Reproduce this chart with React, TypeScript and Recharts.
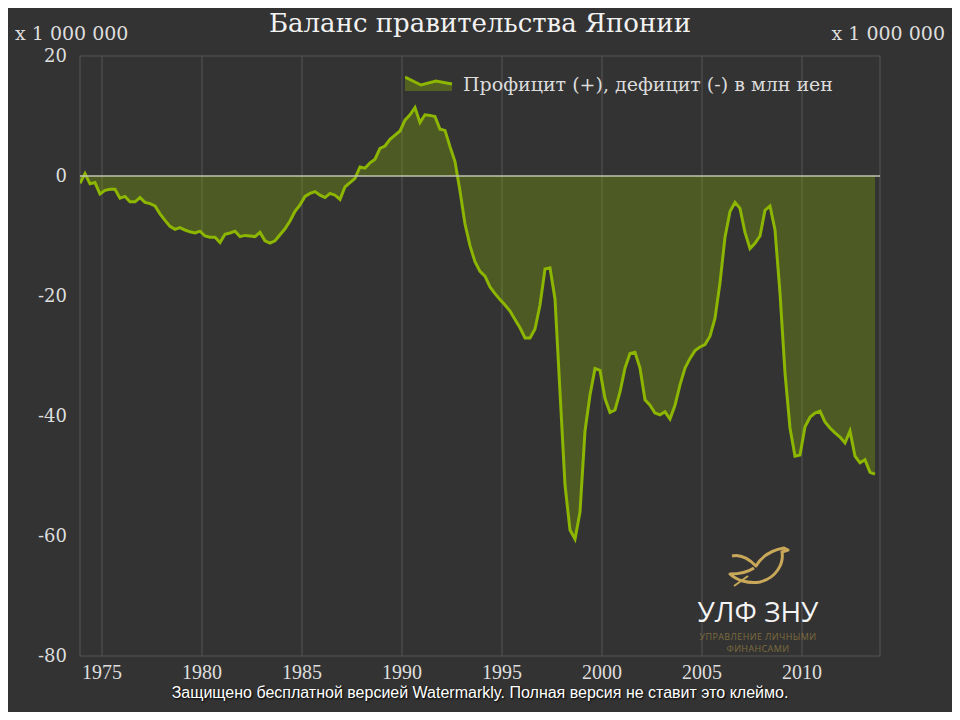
import {
  AreaChart,
  Area,
  XAxis,
  YAxis,
  CartesianGrid,
  ReferenceLine,
} from "recharts";

// quarterly balance, x 1 000 000 млн иен, first quarter sits at 1973.9
const startYear = 1973.9;
const balance = [
  -1.2, 0.4, -1.3, -1.1, -3.0, -2.4, -2.2, -2.2, -3.7, -3.4,
  -4.3, -4.3, -3.6, -4.4, -4.6, -5.0, -6.3, -7.4, -8.4, -8.9,
  -8.6, -9.0, -9.3, -9.5, -9.2, -10.0, -10.2, -10.2, -11.1, -9.7,
  -9.5, -9.2, -10.1, -9.9, -10.0, -10.1, -9.4, -10.8, -11.2, -10.8,
  -9.8, -8.8, -7.5, -5.9, -4.8, -3.4, -2.9, -2.6, -3.2, -3.6,
  -2.9, -3.2, -3.9, -1.8, -1.1, -0.4, 1.5, 1.3, 2.2, 2.8,
  4.6, 5.0, 6.1, 6.8, 7.5, 9.3, 10.2, 11.4, 8.9, 10.2,
  10.1, 9.9, 7.8, 7.6, 4.9, 2.4, -2.5, -8.0, -11.6, -14.3,
  -15.9, -16.7, -18.5, -19.6, -20.6, -21.5, -22.5, -23.9, -25.3, -27.0,
  -27.0, -25.5, -21.5, -15.5, -15.3, -20.5, -36.0, -51.5, -59.0, -60.5,
  -56.0, -42.5, -36.5, -32.1, -32.4, -37.1, -39.4, -39.0, -36.0, -32.0,
  -29.6, -29.4, -32.0, -37.3, -38.2, -39.5, -39.8, -39.3, -40.5, -38.2,
  -34.8, -32.0, -30.4, -29.1, -28.5, -28.1, -26.7, -23.7, -17.8, -10.2,
  -5.9, -4.4, -5.4, -9.4, -12.1, -11.2, -10.0, -5.7, -5.0, -9.0,
  -19.5, -32.8, -42.0, -46.7, -46.5, -41.8, -40.2, -39.5, -39.2, -41.0,
  -42.0, -42.8, -43.5, -44.5, -42.5, -46.7, -47.8, -47.3, -49.4, -49.7,
];
const xTicks = [1975, 1980, 1985, 1990, 1995, 2000, 2005, 2010];
const yTicks = [-80, -60, -40, -20, 0, 20];

const chartData = balance.map((v, i) => ({
  year: startYear + i * 0.25,
  value: v,
}));

const serif = '"Liberation Serif", "DejaVu Serif", serif';
const wideSerif = '"DejaVu Serif", "Liberation Serif", serif';
const lineColor = "#8db600";
const xTickStyle = { fontSize: 20, fill: "#dedede", fontFamily: serif };
const yTickStyle = { fontSize: 18, fill: "#dedede", fontFamily: wideSerif };

export default function App() {
  return (
    <div
      style={{
        position: "relative",
        width: 960,
        height: 720,
        margin: -8,
        background: "#333333",
        fontFamily: serif,
        overflow: "hidden",
      }}
    >
      <div
        style={{
          position: "absolute",
          top: 6,
          left: 0,
          width: 960,
          textAlign: "center",
          fontFamily: wideSerif,
          fontSize: 26,
          lineHeight: "34px",
          color: "#f2f2f2",
        }}
      >
        Баланс правительства Японии
      </div>
      <div style={{ position: "absolute", top: 22, left: 15, fontFamily: wideSerif, fontSize: 19, color: "#dedede" }}>
        x 1 000 000
      </div>
      <div style={{ position: "absolute", top: 22, right: 15, fontFamily: wideSerif, fontSize: 19, color: "#dedede" }}>
        x 1 000 000
      </div>

      <AreaChart
        width={960}
        height={720}
        data={chartData}
        margin={{ top: 56, right: 0, bottom: 0, left: 0 }}
      >
        <CartesianGrid stroke="#575757" strokeWidth={1} />
        <XAxis
          dataKey="year"
          type="number"
          domain={[1973.9, 2013.9]}
          ticks={xTicks}
          allowDataOverflow
          height={64}
          axisLine={false}
          tickLine={false}
          tickMargin={3}
          tick={xTickStyle}
        />
        <YAxis
          yAxisId="left"
          width={80}
          domain={[-80, 20]}
          ticks={yTicks}
          axisLine={false}
          tickLine={false}
          tickMargin={7}
          tick={yTickStyle}
        />
        <YAxis
          yAxisId="right"
          orientation="right"
          width={80}
          domain={[-80, 20]}
          ticks={yTicks}
          axisLine={false}
          tickLine={false}
          tickMargin={9}
          tick={yTickStyle}
        />
        <Area
          yAxisId="left"
          type="linear"
          dataKey="value"
          baseValue={0}
          stroke={lineColor}
          strokeWidth={3}
          fill={lineColor}
          fillOpacity={0.3}
          dot={false}
          activeDot={false}
          isAnimationActive={false}
        />
        <ReferenceLine yAxisId="left" y={0} stroke="#c2c5b0" strokeWidth={1.5} />
      </AreaChart>

      {/* legend */}
      <div
        style={{
          position: "absolute",
          top: 73,
          left: 405,
          display: "flex",
          alignItems: "center",
          gap: 10,
          fontFamily: wideSerif,
          fontSize: 19,
          color: "#dcdcdc",
        }}
      >
        <svg width={48} height={18}>
          <path d="M0,2 L16,10 L31,6 L47,9 L47,16 L0,16 Z" fill={lineColor} fillOpacity={0.35} />
          <polyline points="0,2 16,10 31,6 47,9" fill="none" stroke={lineColor} strokeWidth={3} />
        </svg>
        <span>Профицит (+), дефицит (-) в млн иен</span>
      </div>

      {/* logo */}
      <svg
        style={{ position: "absolute", left: 726, top: 542 }}
        width={66}
        height={48}
      >
        <path
          d="M6,14 C14,12 22,16 30,24 C36,14 46,8 58,6 L62,8 L56,10 C58,22 50,36 34,40 C22,42 10,38 4,32 C14,32 22,30 28,26"
          fill="none"
          stroke="#c9a85a"
          strokeWidth={3}
          strokeLinejoin="round"
        />
        <path d="M8,44 L22,34" stroke="#c9a85a" strokeWidth={2} />
      </svg>
      <div
        style={{
          position: "absolute",
          top: 594,
          left: 690,
          width: 136,
          textAlign: "center",
          fontFamily: '"Open Sans", sans-serif',
          fontSize: 28,
          lineHeight: "34px",
          color: "#f4f4f4",
        }}
      >
        УЛФ ЗНУ
      </div>
      <div
        style={{
          position: "absolute",
          top: 631,
          left: 680,
          width: 156,
          textAlign: "center",
          fontFamily: '"Open Sans", sans-serif',
          fontSize: 9,
          lineHeight: "12px",
          letterSpacing: 0.4,
          color: "#7d6c3e",
        }}
      >
        УПРАВЛЕНИЕ ЛИЧНЫМИ
        <br />
        ФИНАНСАМИ
      </div>

      {/* watermark */}
      <div
        style={{
          position: "absolute",
          top: 684,
          left: 0,
          width: 960,
          textAlign: "center",
          fontFamily: '"Liberation Sans Narrow", "Liberation Sans", sans-serif',
          fontSize: 16,
          lineHeight: "18px",
          color: "#ffffff",
          textShadow: "1px 1px 2px #000",
        }}
      >
        Защищено бесплатной версией Watermarkly. Полная версия не ставит это клеймо.
      </div>
    </div>
  );
}
